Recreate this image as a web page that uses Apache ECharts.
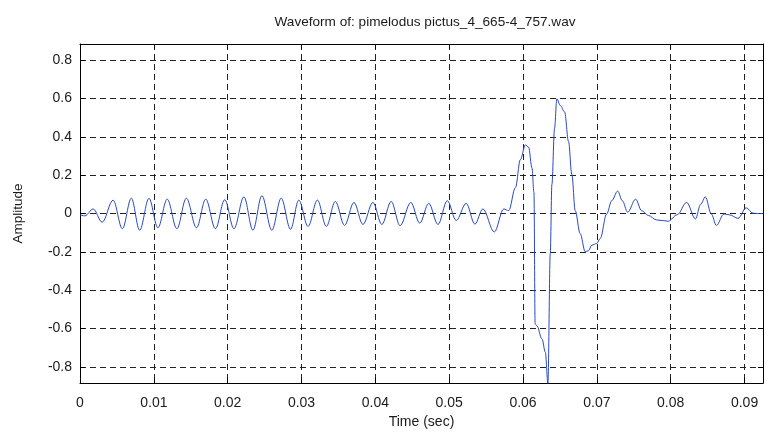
<!DOCTYPE html>
<html>
<head>
<meta charset="utf-8">
<script src="https://cdn.jsdelivr.net/npm/echarts@6/dist/echarts.min.js"></script>
<style>
html,body{margin:0;padding:0;background:#fff;}
#chart{width:766px;height:434px;}
</style>
</head>
<body>
<div id="chart"></div>
<script>
const times = [0, 0.00066, 0.00178, 0.0030, 0.00448, 0.00574, 0.00695, 0.00808, 0.00934, 0.01055,
  0.01181, 0.01312, 0.0144, 0.01578, 0.01703, 0.01834, 0.0196, 0.02085, 0.0222, 0.02342,
  0.02463, 0.02598, 0.02725, 0.02851, 0.02963, 0.03089, 0.03215, 0.03336, 0.03458, 0.03583,
  0.0371, 0.03832, 0.03967, 0.04088, 0.04214, 0.04335, 0.0448, 0.04601, 0.04723, 0.04848,
  0.04974, 0.05095, 0.0523, 0.05348, 0.05456, 0.05611, 0.05739, 0.05806, 0.05897, 0.05964,
  0.06032, 0.06076, 0.06121, 0.06148, 0.06164, 0.06188, 0.06256, 0.06302, 0.06337, 0.06369,
  0.06391, 0.06427, 0.06458, 0.06504, 0.06563, 0.06616, 0.06661, 0.06707, 0.06774, 0.06842,
  0.06886, 0.06931, 0.06998, 0.07044, 0.07133, 0.07201, 0.07282, 0.07345, 0.07417, 0.07525,
  0.07606, 0.07697, 0.07808, 0.07966, 0.08088, 0.08216, 0.08335, 0.08407, 0.08469, 0.0855,
  0.08618, 0.08722, 0.08799, 0.08911, 0.09023, 0.09113, 0.0918, 0.0925];
// Amplitude at those times
const amps = [-0.007, -0.012, 0.024, -0.045, 0.07, -0.079, 0.08, -0.087, 0.079, -0.074,
  0.075, -0.079, 0.08, -0.074, 0.075, -0.079, 0.072, -0.079, 0.087, -0.087,
  0.093, -0.087, 0.08, -0.082, 0.07, -0.067, 0.07, -0.067, 0.063, -0.062,
  0.058, -0.057, 0.058, -0.057, 0.063, -0.063, 0.058, -0.05, 0.053, -0.057,
  0.067, -0.036, 0.053, -0.055, 0.024, -0.096, 0.024, 0.015, 0.135, 0.281,
  0.358, 0.345, 0.238, 0.11, -0.576, -0.585, -0.653, -0.722, -0.885, -0.208,
  0.152, 0.444, 0.598, 0.564, 0.53, 0.376, 0.204, 0.015, -0.105, -0.199,
  -0.194, -0.165, -0.156, -0.131, -0.002, 0.067, 0.117, 0.067, 0.007, 0.075,
  0.015, -0.01, -0.033, -0.04, -0.006, 0.058, -0.028, 0.049, 0.087, -0.002,
  -0.062, -0.002, -0.007, -0.025, 0.03, 0.002, 0, 0];

const titleText = 'Waveform of: pimelodus pictus_4_665-4_757.wav';
const xName = 'Time (sec)';
const yName = 'Amplitude';
const xMin = 0, xMax = 0.0925, xStep = 0.01;
const yMin = -0.884, yMax = 0.884, yStep = 0.2;

const FONT = '"Liberation Sans", Arial, Helvetica, sans-serif';
const TXT = '#1a1a1a';

function xLabel(v) {
  const r = Math.round(v / xStep);
  if (Math.abs(v / xStep - r) > 1e-6) return '';
  return r === 0 ? '0' : (r * xStep).toFixed(2);
}
function yLabel(v) {
  const r = Math.round(v / yStep);
  if (Math.abs(v / yStep - r) > 1e-6) return '';
  return r === 0 ? '0' : (r * yStep).toFixed(1);
}

const gridDash = { color: '#222', width: 1, type: [6, 4] };
const frame = { show: true, onZero: false, lineStyle: { color: '#000', width: 1 } };
const tickIn = { show: true, inside: true, length: 5, lineStyle: { color: '#000' } };

const chart = echarts.init(document.getElementById('chart'), null, { renderer: 'canvas' });
chart.setOption({
  animation: false,
  backgroundColor: '#fff',
  title: {
    text: titleText, left: 420, top: 10, textAlign: 'center',
    textStyle: { fontFamily: FONT, fontSize: 13.6, fontWeight: 'normal', color: TXT }
  },
  grid: { left: 80, right: 1, top: 44, bottom: 46, containLabel: false },
  xAxis: [
    {
      type: 'value', position: 'bottom', min: xMin, max: xMax, interval: xStep,
      name: xName, nameLocation: 'middle', nameGap: 30,
      nameTextStyle: { fontFamily: FONT, fontSize: 14, color: TXT },
      axisLine: frame, axisTick: tickIn,
      axisLabel: { formatter: xLabel, margin: 13, fontFamily: FONT, fontSize: 14, color: TXT },
      splitLine: { show: true, lineStyle: gridDash }
    },
    {
      type: 'value', position: 'top', min: xMin, max: xMax, interval: xStep,
      axisLine: frame, axisTick: tickIn, axisLabel: { show: false }, splitLine: { show: false }
    }
  ],
  yAxis: [
    {
      type: 'value', position: 'left', min: yMin, max: yMax,
      splitNumber: 9, minInterval: yStep, maxInterval: yStep,
      name: yName, nameLocation: 'middle', nameGap: 55,
      nameTextStyle: { fontFamily: FONT, fontSize: 13.5, color: TXT },
      axisLine: frame, axisTick: tickIn,
      axisLabel: { formatter: yLabel, margin: 8, fontFamily: FONT, fontSize: 14, color: TXT,
                   showMinLabel: false, showMaxLabel: false },
      splitLine: { show: true, lineStyle: gridDash }
    },
    {
      type: 'value', position: 'right', min: yMin, max: yMax,
      splitNumber: 9, minInterval: yStep, maxInterval: yStep,
      axisLine: frame, axisTick: tickIn, axisLabel: { show: false }, splitLine: { show: false }
    }
  ],
  series: [{
    type: 'line', xAxisIndex: 0, yAxisIndex: 0,
    data: times.map((t, i) => [t, amps[i]]),
    showSymbol: false, smooth: 0.35, smoothMonotone: 'x',
    lineStyle: { color: '#2a48c0', width: 1 },
    clip: true
  }]
});
</script>
</body>
</html>
